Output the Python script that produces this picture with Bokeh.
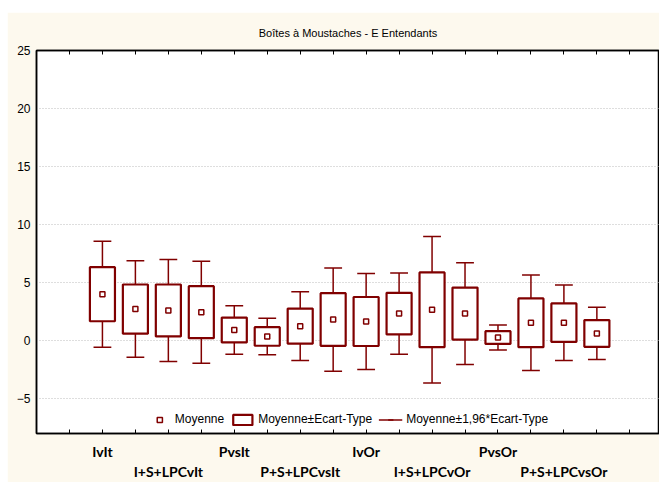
import math
from bokeh.plotting import figure
from bokeh.models import (LinearAxis, FixedTicker, Legend, LegendItem,
                          ColumnDataSource, Range1d)
from bokeh.embed import file_html
from bokeh.resources import INLINE

# ---------------- data ----------------
title_text = "Boîtes à Moustaches - E Entendants"
categories = ["IvIt", "", "I+S+LPCvIt", "", "PvsIt", "", "P+S+LPCvsIt", "",
              "IvOr", "", "I+S+LPCvOr", "", "PvsOr", "", "P+S+LPCvsOr", ""]
means = [4.00, 2.72, 2.60, 2.45, 0.92, 0.36, 1.25, 1.82,
         1.65, 2.33, 2.66, 2.33, 0.27, 1.54, 1.55, 0.62]
sds = [2.33, 2.12, 2.24, 2.24, 1.07, 0.80, 1.51, 2.27,
       2.11, 1.79, 3.22, 2.24, 0.55, 2.10, 1.66, 1.15]
y_ticks = [-5, 0, 5, 10, 15, 20, 25]
legend_labels = ["Moyenne", "Moyenne±Ecart-Type", "Moyenne±1,96*Ecart-Type"]
z = 1.96

# ---------------- derived ----------------
DARK = "#800000"
CREAM = "#FDF9EE"
n = len(categories)
xs = [i + 2 for i in range(n)]
box_hw = 0.38
cap_hw = 0.27
src = ColumnDataSource(dict(
    x=xs, mean=means,
    left=[x - box_hw for x in xs], right=[x + box_hw for x in xs],
    cl=[x - cap_hw for x in xs], cr=[x + cap_hw for x in xs],
    lo1=[m - s for m, s in zip(means, sds)], hi1=[m + s for m, s in zip(means, sds)],
    lo2=[m - z * s for m, s in zip(means, sds)], hi2=[m + z * s for m, s in zip(means, sds)],
))

p = figure(frame_width=623, frame_height=383, x_range=Range1d(0, 18.9), y_range=Range1d(-8, 25),
           output_backend="svg", toolbar_location=None, margin=(12, 0, 0, 7),
           min_border_left=29, min_border_right=0, min_border_top=38, min_border_bottom=20,
           border_fill_color=CREAM, background_fill_color="white",
           outline_line_color="black", outline_line_width=1.5)

# title
p.title.text = title_text
p.title.align = "center"
p.title.text_font = "Liberation Sans"
p.title.text_font_size = "11px"
p.title.text_font_style = "normal"
p.title.text_color = "black"
p.title.standoff = 24

# y axis
p.yaxis.ticker = FixedTicker(ticks=y_ticks)
p.yaxis.major_tick_in = 0
p.yaxis.major_tick_out = 0
p.yaxis.minor_tick_line_color = None
p.yaxis.axis_line_width = 1.5
p.yaxis.major_label_standoff = 6
p.yaxis.major_label_text_font = "Liberation Sans"
p.yaxis.major_label_text_font_size = "12px"
p.yaxis.major_label_text_color = "black"

p.xgrid.grid_line_color = None
p.ygrid.grid_line_color = "#BDBDBD"
p.ygrid.grid_line_dash = "1 2"
p.ygrid.grid_line_width = 1

# x axis: labels alternate between two rows
tick_pos = list(range(1, 19))
named = [(x, c) for x, c in zip(xs, categories) if c]
overrides = {t: "" for t in tick_pos}
for k, (x, c) in enumerate(named):
    overrides[x] = c if k % 2 == 0 else " \n" + c

xa = p.xaxis[0]
xa.ticker = FixedTicker(ticks=tick_pos)
xa.major_label_overrides = overrides
xa.major_tick_in = 4
xa.major_tick_out = 0
xa.minor_tick_line_color = None
xa.axis_line_width = 1.5
xa.major_label_standoff = 9
xa.major_label_text_font = "Lato"
xa.major_label_text_font_style = "bold"
xa.major_label_text_font_size = "14px"
xa.major_label_text_color = "black"

top = LinearAxis(ticker=FixedTicker(ticks=tick_pos), major_tick_in=4, major_tick_out=0,
                 minor_tick_line_color=None, axis_line_width=1.5,
                 major_label_text_font_size="0px", major_label_standoff=0,
                 major_label_overrides={t: "" for t in tick_pos})
p.add_layout(top, "above")

# ---------------- glyphs ----------------
wr = p.segment(x0="x", y0="lo2", x1="x", y1="hi2", source=src, line_color=DARK, line_width=1.5)
p.segment(x0="cl", y0="hi2", x1="cr", y1="hi2", source=src, line_color=DARK, line_width=1.5)
p.segment(x0="cl", y0="lo2", x1="cr", y1="lo2", source=src, line_color=DARK, line_width=1.5)
vd = p.scatter(x="x", y="mean", source=src, marker="dash", angle=math.pi / 2,
               size=6, line_color=DARK, line_width=1.5)
br = p.quad(left="left", right="right", bottom="lo1", top="hi1", source=src,
            fill_color="white", line_color=DARK, line_width=2.2)
mr = p.scatter(x="x", y="mean", source=src, marker="square", size=5,
               fill_color="white", line_color=DARK, line_width=1.5)

legend = Legend(items=[LegendItem(label=legend_labels[0], renderers=[mr]),
                       LegendItem(label=legend_labels[1], renderers=[br]),
                       LegendItem(label=legend_labels[2], renderers=[wr, vd])],
                orientation="horizontal", location="bottom_center",
                background_fill_alpha=0, border_line_alpha=0,
                label_text_font="Liberation Sans", label_text_font_size="12px",
                label_text_color="black", glyph_width=24, glyph_height=13,
                spacing=6, padding=1, margin=6, label_standoff=4,
                label_height=13)
p.add_layout(legend)

open("out.html", "w").write(file_html(p, INLINE))
